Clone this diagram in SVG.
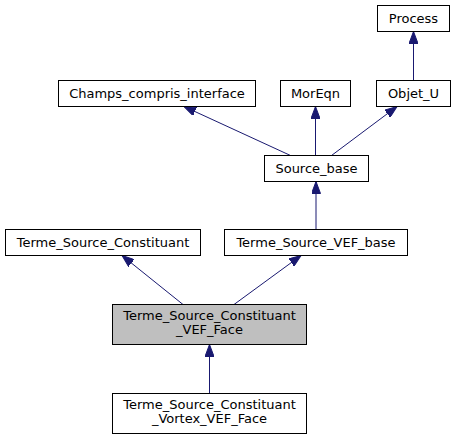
<svg xmlns="http://www.w3.org/2000/svg" width="456" height="440" viewBox="0 0 456 440">
<style>
.n rect{fill:#fff;stroke:#000;stroke-width:1}
.n text{font-family:"DejaVu Sans",sans-serif;font-size:13px;text-anchor:middle;fill:#000}
.e path{stroke:#191970;stroke-width:1;fill:none;marker-end:url(#ah)}
</style>
<defs>
<marker id="ah" viewBox="0 0 12 9" refX="12" refY="4.5" markerWidth="12" markerHeight="9" markerUnits="userSpaceOnUse" orient="auto">
<path d="M0,0 L12,4.5 L0,9 z" fill="#191970" stroke="#191970" stroke-width="1"/>
</marker>
</defs>
<rect width="456" height="440" fill="#fff"/>
<g class="e" id="edges">
<path d="M413.5,80.5 L413.5,31.5"/>
<path d="M290.5,155.5 L184,106.5"/>
<path d="M315.5,155.5 L315.5,106.5"/>
<path d="M331.5,155.5 L397,106.5"/>
<path d="M316,229.5 L316,181.5"/>
<path d="M183,304.5 L122,255.5"/>
<path d="M234,304.5 L301,255.5"/>
<path d="M209.5,393.5 L209.5,344.5"/>
</g>
<g class="n" id="process"><rect x="377.5" y="5.5" width="72" height="26"/><text x="413.5" y="23">Process</text></g>
<g class="n" id="champs"><rect x="58.5" y="80.5" width="197" height="26"/><text x="157" y="98">Champs_compris_interface</text></g>
<g class="n" id="moreqn"><rect x="280.5" y="80.5" width="70" height="26"/><text x="315.5" y="98">MorEqn</text></g>
<g class="n" id="objetu"><rect x="376.5" y="80.5" width="74" height="26"/><text x="413.5" y="98">Objet_U</text></g>
<g class="n" id="sourcebase"><rect x="264.5" y="155.5" width="104" height="26"/><text x="316.5" y="173">Source_base</text></g>
<g class="n" id="tsc"><rect x="5.5" y="229.5" width="195" height="26"/><text x="103" y="247">Terme_Source_Constituant</text></g>
<g class="n" id="tsvb"><rect x="224.5" y="229.5" width="183" height="26"/><text x="316" y="247">Terme_Source_VEF_base</text></g>
<g class="n" id="face"><rect x="112.5" y="304.5" width="194" height="40" style="fill:#bfbfbf"/><text x="209.5" y="320">Terme_Source_Constituant</text><text x="209.5" y="334">_VEF_Face</text></g>
<g class="n" id="vortex"><rect x="112.5" y="393.5" width="194" height="40"/><text x="209.5" y="409">Terme_Source_Constituant</text><text x="209.5" y="423">_Vortex_VEF_Face</text></g>
</svg>
